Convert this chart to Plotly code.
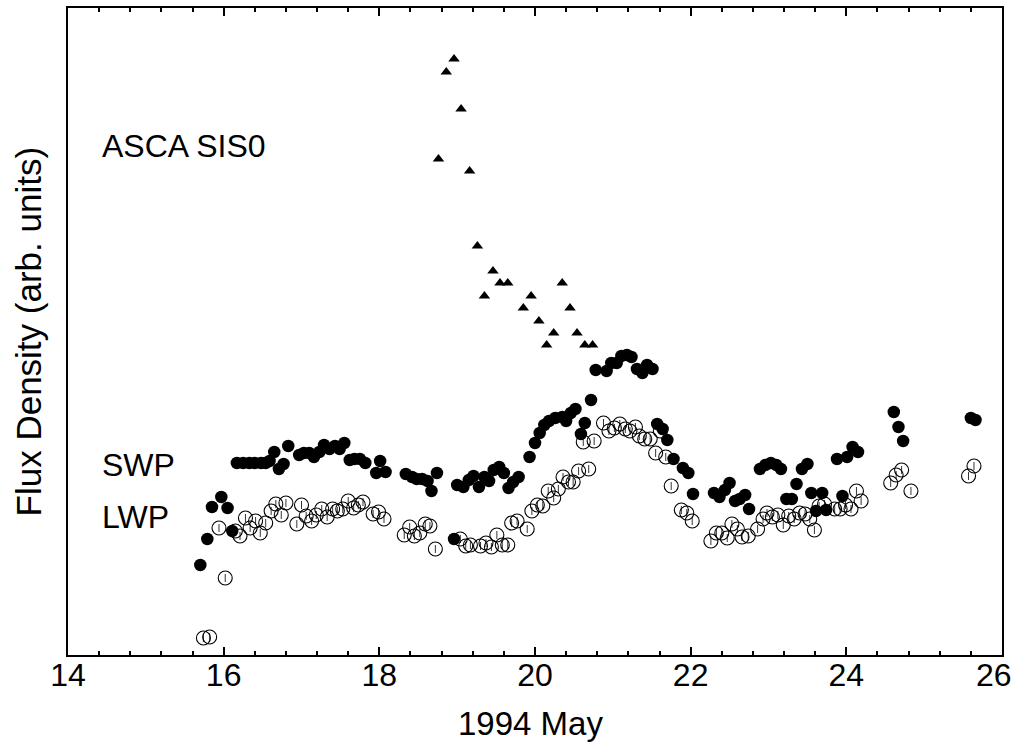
import plotly.graph_objects as go

# ---------------- data (day of 1994 May, flux in arbitrary units) ----------------
swp_day = [15.70, 15.79, 15.85, 15.97, 16.05, 16.11, 16.17, 16.25, 16.33, 16.40, 16.48, 16.54,
           16.59, 16.65, 16.71, 16.77, 16.83, 16.97, 17.03, 17.10, 17.16, 17.23, 17.29, 17.36,
           17.43, 17.49, 17.55, 17.62, 17.68, 17.75, 17.82, 17.96, 18.01, 18.08,
           18.34, 18.42, 18.48, 18.55, 18.62, 18.67, 18.74, 18.96, 19.00, 19.08, 19.15, 19.21,
           19.28, 19.35, 19.41, 19.47, 19.54, 19.60, 19.66, 19.72, 19.79, 19.93, 20.00, 20.06,
           20.12, 20.18, 20.26, 20.35, 20.40, 20.46, 20.52, 20.59, 20.64, 20.72, 20.78, 20.92,
           20.98, 21.05, 21.11, 21.18, 21.24, 21.31, 21.38, 21.44, 21.51, 21.57, 21.64, 21.70,
           21.78, 21.90, 21.97, 22.03, 22.30, 22.37, 22.44, 22.50, 22.57, 22.63, 22.70, 22.75,
           22.89, 22.96, 23.03, 23.10, 23.16, 23.23, 23.30, 23.36, 23.43, 23.50, 23.55, 23.61,
           23.69, 23.74, 23.88, 23.95, 24.01, 24.08, 24.15, 24.61, 24.67, 24.73, 25.60, 25.66]
swp_flux = [90, 116, 148, 158, 147, 124, 192, 192, 192, 192, 192, 192,
            194, 203, 186, 191, 209, 200, 202, 202, 198, 203, 210, 206,
            209, 206, 212, 195, 196, 196, 192, 182, 194, 183,
            181, 178, 176, 176, 174, 164, 182, 116, 170, 168, 175, 179,
            168, 178, 174, 185, 188, 182, 167, 173, 178, 198, 212, 222,
            230, 234, 237, 238, 234, 242, 246, 221, 232, 255, 285, 284,
            292, 292, 299, 300, 298, 286, 282, 290, 286, 231, 226, 215,
            196, 187, 182, 161, 162, 158, 165, 172, 154, 156, 160, 146,
            186, 190, 192, 190, 186, 156, 156, 171, 186, 191, 162, 144,
            162, 145, 196, 159, 198, 208, 203, 243, 228, 214, 237, 235]

lwp_day = [15.74, 15.82, 15.94, 16.02, 16.15, 16.21, 16.28, 16.34, 16.41, 16.47, 16.54, 16.61,
           16.67, 16.74, 16.80, 16.94, 17.00, 17.06, 17.13, 17.19, 17.26, 17.33, 17.40, 17.46,
           17.53, 17.60, 17.67, 17.73, 17.79, 17.92, 17.99, 18.06,
           18.32, 18.39, 18.45, 18.52, 18.59, 18.65, 18.72, 19.04, 19.11, 19.17, 19.30, 19.37,
           19.44, 19.51, 19.58, 19.65, 19.70, 19.77, 19.90, 19.96, 20.03, 20.10, 20.17, 20.24,
           20.30, 20.36, 20.43, 20.49, 20.56, 20.62, 20.69, 20.76, 20.88, 20.95, 21.02, 21.09,
           21.16, 21.22, 21.29, 21.34, 21.41, 21.48, 21.55, 21.61, 21.68, 21.75, 21.88, 21.95,
           22.02, 22.26, 22.33, 22.40, 22.47, 22.53, 22.60, 22.66, 22.74, 22.86, 22.93, 22.98,
           23.05, 23.12, 23.19, 23.26, 23.33, 23.40, 23.47, 23.53, 23.59, 23.65, 23.72, 23.85,
           23.92, 23.99, 24.06, 24.13, 24.19, 24.57, 24.64, 24.71, 24.83, 25.57, 25.64]
lwp_flux = [17, 18, 127, 77, 124, 119, 137, 127, 134, 122, 132, 144,
            151, 140, 152, 131, 150, 139, 134, 140, 146, 138, 146, 144,
            146, 154, 147, 150, 153, 141, 143, 136,
            120, 128, 119, 122, 131, 129, 106, 116, 109, 110, 109, 112,
            108, 120, 110, 110, 132, 134, 126, 144, 150, 149, 164, 157,
            166, 178, 173, 173, 184, 213, 186, 214, 232, 224, 227, 231,
            226, 224, 228, 219, 216, 216, 202, 224, 198, 169, 145, 142,
            134, 114, 122, 122, 117, 131, 126, 118, 119, 126, 136, 142,
            138, 140, 130, 139, 136, 142, 141, 136, 125, 149, 151, 146,
            146, 150, 146, 164, 154, 172, 180, 185, 164, 179, 189]

asca_day = [18.76, 18.86, 18.96, 19.05, 19.16, 19.26, 19.35, 19.46, 19.55, 19.65,
            19.85, 19.95, 20.05, 20.15, 20.24, 20.35, 20.45, 20.54, 20.64, 20.74]
asca_flux = [496, 583, 596, 546, 484, 409, 359, 384, 372, 372,
             347, 359, 334, 310, 322, 372, 347, 322, 310, 310]

x_tickvals = [14, 16, 18, 20, 22, 24, 26]
x_ticktext = ["14", "16", "18", "20", "22", "24", ""]
last_tick_label = "26"

labels = ["ASCA SIS0", "SWP", "LWP"]
x_title = "1994 May"
y_title = "Flux Density (arb. units)"

FONT = "Arial, Liberation Sans, sans-serif"

fig = go.Figure()
fig.add_trace(go.Scatter(
    x=lwp_day, y=lwp_flux, mode="markers", name="LWP",
    marker=dict(symbol="circle-open", size=14, color="black", line=dict(width=1.1)),
    error_y=dict(type="constant", value=4, thickness=0.8, width=0, color="black"),
))
fig.add_trace(go.Scatter(
    x=swp_day, y=swp_flux, mode="markers", name="SWP",
    marker=dict(symbol="circle", size=12.5, color="black", line=dict(width=0)),
))
fig.add_trace(go.Scatter(
    x=asca_day, y=asca_flux, mode="markers", name="ASCA SIS0",
    marker=dict(symbol="triangle-up", size=10, color="black", line=dict(width=0)),
))

fig.update_layout(
    width=1015, height=744,
    margin=dict(l=68, r=13, t=8, b=89, autoexpand=False),
    paper_bgcolor="white", plot_bgcolor="white",
    showlegend=False,
    font=dict(family=FONT, size=32, color="black"),
    xaxis=dict(
        range=[14, 26], tickmode="array", tickvals=x_tickvals, ticktext=x_ticktext,
        automargin=False,
        showgrid=False, zeroline=False,
        showline=True, linewidth=2, linecolor="black", mirror="ticks",
        ticks="inside", ticklen=8, tickwidth=1.5, tickcolor="black",
        ticklabeloverflow="allow", ticklabelstandoff=-9,
        minor=dict(dtick=0.4, tick0=14, ticks="inside", ticklen=4, tickwidth=1.5,
                   tickcolor="black", showgrid=False),
        tickfont=dict(family=FONT, size=32, color="black"),
    ),
    yaxis=dict(
        range=[0, 647], automargin=False,
        showgrid=False, zeroline=False, showticklabels=False, ticks="",
        showline=True, linewidth=2, linecolor="black", mirror=True,
    ),
    annotations=[
        dict(text=labels[0], xref="paper", yref="paper", x=0.0343, y=0.787,
             xanchor="left", yanchor="middle", showarrow=False, font=dict(size=32)),
        dict(text=labels[1], xref="paper", yref="paper", x=0.0343, y=0.294,
             xanchor="left", yanchor="middle", showarrow=False, font=dict(size=32)),
        dict(text=labels[2], xref="paper", yref="paper", x=0.0343, y=0.213,
             xanchor="left", yanchor="middle", showarrow=False, font=dict(size=32)),
        dict(text=last_tick_label, xref="paper", yref="paper", x=1.0128, y=-0.0309,
             xanchor="right", yanchor="middle", showarrow=False, font=dict(size=32)),
        dict(text=x_title, xref="paper", yref="paper", x=0.4955, y=-0.074,
             xanchor="center", yanchor="top", showarrow=False, font=dict(size=33)),
        dict(text=y_title, xref="paper", yref="paper", x=-0.0418, y=0.5,
             xanchor="center", yanchor="middle", textangle=-90, showarrow=False,
             font=dict(size=35)),
    ],
)

fig.write_html("out.html")
